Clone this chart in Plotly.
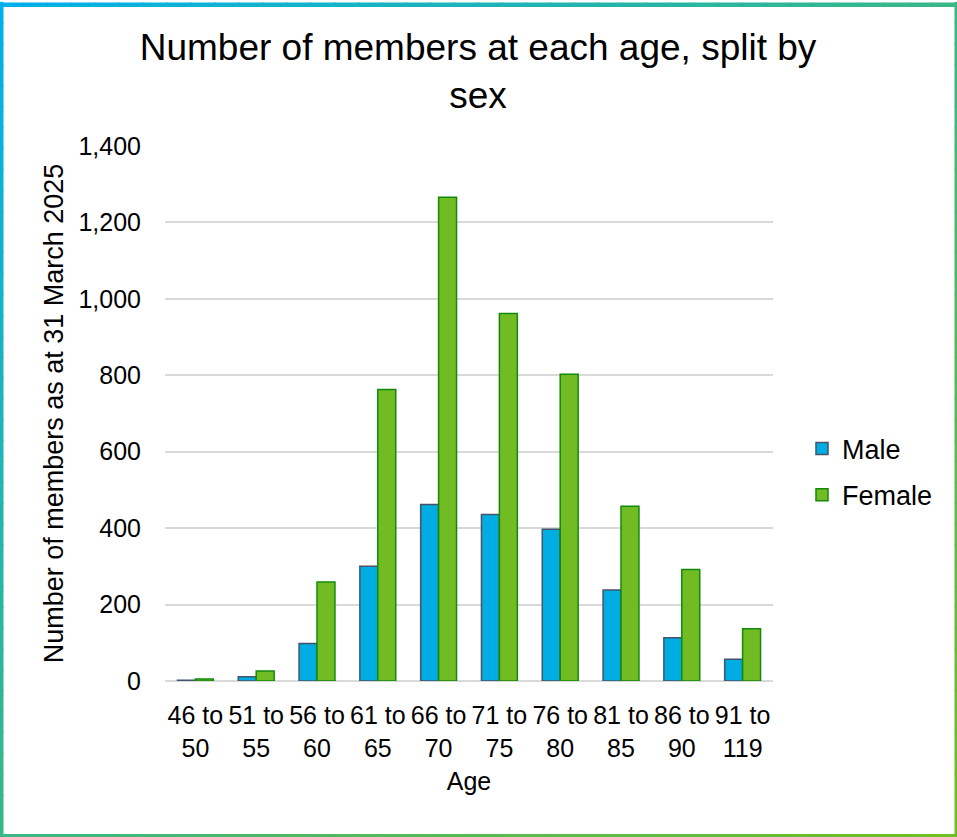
import plotly.graph_objects as go

categories = ["46 to<br>50", "51 to<br>55", "56 to<br>60", "61 to<br>65", "66 to<br>70",
              "71 to<br>75", "76 to<br>80", "81 to<br>85", "86 to<br>90", "91 to<br>119"]
male = [2, 11, 98, 300, 462, 436, 397, 238, 113, 57]
female = [5, 26, 259, 763, 1266, 962, 803, 457, 292, 137]
y_ticks = [0, 200, 400, 600, 800, 1000, 1200, 1400]

W, H = 957, 837
L, R, T, B = 165, 773, 146, 681

FONT = "Liberation Sans, Arial, sans-serif"

fig = go.Figure()
fig.add_trace(go.Bar(name="Male", x=categories, y=male, legendgroup="m",
                     marker=dict(color="#00ADE3", line=dict(color="#44546A", width=1.5))))
fig.add_trace(go.Bar(name="Female", x=categories, y=female, legendgroup="f",
                     marker=dict(color="#70BC22", line=dict(color="#13890C", width=1.5))))

def px(x):
    return (x - L) / (R - L)

def py(y):
    return (B - y) / (B - T)

c0 = (0, 176, 236)
c1 = (114, 191, 32)

def col(x, y):
    t = (x / W + y / H) / 2
    t = min(max(t, 0), 1)
    return "rgb(%d,%d,%d)" % tuple(round(a + (b - a) * t) for a, b in zip(c0, c1))

shapes = []
N = 40
def hedge(x0, x1, ya, yb):
    for i in range(N):
        xa = x0 + (x1 - x0) * i / N
        xb = x0 + (x1 - x0) * (i + 1) / N
        shapes.append(dict(type="rect", xref="paper", yref="paper",
                           x0=px(xa - 0.6), x1=px(xb + 0.6), y0=py(ya), y1=py(yb),
                           fillcolor=col((xa + xb) / 2, (ya + yb) / 2),
                           line=dict(width=0), layer="above"))

def vedge(xa, xb, y0, y1):
    for i in range(N):
        ya = y0 + (y1 - y0) * i / N
        yb = y0 + (y1 - y0) * (i + 1) / N
        shapes.append(dict(type="rect", xref="paper", yref="paper",
                           x0=px(xa), x1=px(xb), y0=py(ya - 0.6), y1=py(yb + 0.6),
                           fillcolor=col((xa + xb) / 2, (ya + yb) / 2),
                           line=dict(width=0), layer="above"))

hedge(0, W, 2.5, 7)
vedge(0, 3.5, 2.5, H)
vedge(954.5, W, 2.5, H)
hedge(0, W, 834, H)

fig.update_layout(
    width=W, height=H,
    margin=dict(l=L, r=W - R, t=T, b=H - B, autoexpand=False),
    paper_bgcolor="white", plot_bgcolor="white",
    font=dict(family=FONT, size=25, color="#000000"),
    title=dict(text="Number of members at each age, split by<br>sex",
               x=(478) / W, xanchor="center", y=1 - 60 / H, yanchor="middle",
               font=dict(size=37, family=FONT, color="#000000")),
    barmode="group", bargap=0.41, bargroupgap=0,
    legend=dict(x=px(802), xanchor="left", y=py(472), yanchor="middle",
                font=dict(size=27, family=FONT), tracegroupgap=8,
                bgcolor="rgba(0,0,0,0)"),
    shapes=shapes,
    showlegend=True,
)
fig.update_xaxes(title=dict(text="Age", font=dict(size=25), standoff=11),
                 tickfont=dict(size=25), ticklabelstandoff=17, showline=False,
                 showgrid=False, tickangle=0)
fig.update_yaxes(title=dict(text="Number of members as at 31 March 2025", font=dict(size=27),
                             standoff=6),
                 range=[0, 1400], tickvals=y_ticks, tickformat=",",
                 tickfont=dict(size=25), ticklabelstandoff=23,
                 showgrid=True, gridcolor="#D9D9D9", gridwidth=1.5,
                 zeroline=True, zerolinecolor="#D9D9D9", zerolinewidth=1.5,
                 showline=False)

fig.write_html("out.html", config={"displayModeBar": False},
               post_script="document.body.style.margin='0px';")
